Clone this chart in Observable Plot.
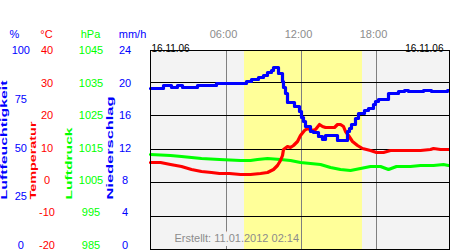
<!DOCTYPE html>
<html><head><meta charset="utf-8">
<script src="https://cdn.jsdelivr.net/npm/d3@7"></script>
<script src="https://cdn.jsdelivr.net/npm/@observablehq/plot@0.6"></script>
<style>
html,body{margin:0;padding:0;background:#fff;}
#chart svg{display:block;}
</style></head><body><div id="chart"></div>
<script>
// ---- data ----
const dateLabel = "16.11.06";
const captionText = "Erstellt: 11.01.2012 02:14";
const tickHours = [6, 12, 18];
const tickLabels = ["06:00", "12:00", "18:00"];
const daylight = [7.48, 16.86]; // sunrise / sunset (hours)

const humTicks = [100, 75, 50, 25, 0];
const tempTicks = [40, 30, 20, 10, 0, -10, -20];
const pressTicks = [1045, 1035, 1025, 1015, 1005, 995, 985];
const rainTicks = [24, 20, 16, 12, 8, 4, 0];
const gridTemps = [30, 20, 10, 0, -10];

const tempHours = [0,0.8,1.6,2.4,3.2,4.0,4.8,5.5,6.3,7.1,7.9,8.7,9.3,9.8,10.1,10.3,10.5,10.6,10.9,11.1,11.35,11.7,11.9,12.2,12.5,12.9,13.1,13.4,13.7,13.9,14.6,14.9,15.1,15.35,15.5,15.75,16.1,16.5,16.9,17.5,18.0,18.5,19.1,19.9,20.7,21.5,22.3,22.5,23.1,23.75];
const tempValues = [6.0,6.0,5.6,4.8,4.0,3.5,3.1,2.8,2.7,2.6,2.6,2.8,3.2,4.0,5.3,6.8,8.3,10.0,10.8,10.6,11.3,12.3,14.2,15.6,16.2,15.7,15.9,17.4,16.8,16.4,16.4,17.4,17.4,16.8,15.3,14.1,12.4,11.1,10.4,9.6,9.0,9.2,9.6,9.6,9.6,9.7,10.1,10.2,10.0,9.9];

const humHours = [0,1.0,1.65,2.1,2.5,3.75,5.2,7.6,8.0,8.6,9.0,9.3,9.6,9.8,10.2,10.5,10.6,10.7,10.85,11.45,11.85,12.0,12.15,12.3,12.75,12.95,13.35,13.7,13.95,14.9,15.65,15.8,16.0,16.3,16.55,17.0,17.35,17.75,17.9,18.1,18.95,19.7,20.2,20.55,21.75,22.35,23.65,23.75];
const humValues = [80.4,81.6,80.6,81.6,80.6,81.6,82.6,83.6,84.6,85.8,86.9,88.1,89.4,90.7,88.0,84.0,80.7,77.7,73.4,71.4,68.7,65.7,64.0,61.4,58.9,58.2,56.4,54.7,56.7,54.4,58.9,60.6,62.2,65.6,68.0,69.2,70.2,72.2,73.9,74.7,77.6,78.6,79.4,78.6,79.4,78.6,79.4,79.4];

const pressHours = [0,1.6,2.4,4.0,5.5,7.1,7.9,8.5,9.3,10.3,11.1,11.9,12.7,13.5,14.3,15.1,15.9,16.7,17.5,18.3,18.9,19.6,20.7,21.5,22.5,23.3,23.75];
const pressValues = [1013.6,1013.3,1012.8,1012.4,1011.9,1011.6,1011.6,1012.1,1012.4,1012.0,1011.6,1011.0,1010.7,1010.4,1009.7,1009.1,1008.7,1009.4,1009.9,1009.9,1009.1,1009.9,1009.9,1010.1,1010.1,1010.4,1010.1];

// ---- axis mapping: all series share the temperature-scaled y axis ----
const humToY = h => -20 + h * 0.6;
const pressToY = p => p - 1005;
const rainToY = r => -20 + r * 2.5;
// the original's tick labels sit on a slightly tighter spacing than its grid
const labelY = t => 0.716 + 0.970 * t;

const BLUE = "#0000ff", RED = "#ff0000", GREEN = "#00ff00", GREY = "#8c8c8c";
const BG = "#f3f3f3", SUN = "#ffff99";

const temp = tempHours.map((h, i) => ({h, v: tempValues[i]}));
const hum = humHours.map((h, i) => ({h, v: humValues[i]}));
const press = pressHours.map((h, i) => ({h, v: pressValues[i]}));
const ticks = tickHours.map((h, i) => ({h, label: tickLabels[i]}));
const sun = [{start: daylight[0], end: daylight[1]}];

const col = (data, yf, dx, fill) => Plot.text(data, {
  y: d => labelY(yf(d)), text: d => String(d), frameAnchor: "left",
  dx, fill, fontSize: 11, textAnchor: "middle"
});
const header = (t, dx, fill) => Plot.text([t], {text: d => d, frameAnchor: "top-left", dx, dy: -20, fill, fontSize: 11, textAnchor: "middle"});
const title = (t, dx, fill) => Plot.text([t], {text: d => d, frameAnchor: "bottom-left", dx, dy: -50, rotate: -90, textAnchor: "start", fill, fontSize: 9, fontWeight: "bold"});

const svg = Plot.plot({
  width: 450, height: 250,
  marginLeft: 150, marginRight: 1, marginTop: 50, marginBottom: 1,
  x: {domain: [0, 24], range: [150.4, 451.6], round: true, axis: null},
  y: {domain: [-20, 40], range: [249.4, 48.4], round: true, axis: null},
  style: {fontFamily: "'Liberation Sans', Arial, sans-serif", background: "#fff", overflow: "visible"},
  marks: [
    Plot.frame({fill: BG, stroke: "none"}),
    Plot.ruleX(ticks, {x: "h", stroke: "#808080", strokeWidth: 1}),
    // halo that interrupts the 06:00 line behind the caption (grey part only)
    Plot.text([captionText], {text: d => d, frameAnchor: "bottom-left", dx: 24, dy: -8, textAnchor: "start", fontSize: 11, fill: BG, stroke: BG, strokeWidth: 8}),
    Plot.rect(sun, {x1: "start", x2: "end", fill: SUN}),
    Plot.ruleX(ticks.filter(t => t.h >= daylight[0] && t.h <= daylight[1]), {x: "h", stroke: "#808080", strokeWidth: 1}),
    Plot.ruleY(gridTemps, {y: d => d, stroke: "#000", strokeWidth: 1}),
    Plot.line(press, {x: "h", y: d => pressToY(d.v), stroke: GREEN, strokeWidth: 3.2}),
    Plot.line(temp, {x: "h", y: "v", stroke: RED, strokeWidth: 3.2}),
    Plot.line(hum, {x: "h", y: d => humToY(d.v), stroke: BLUE, strokeWidth: 3.2, curve: "step-after"}),
    Plot.frame({stroke: "#000", strokeWidth: 1}),
    Plot.text([captionText], {text: d => d, frameAnchor: "bottom-left", dx: 24, dy: -8, textAnchor: "start", fontSize: 11, fill: GREY}),
    Plot.text(ticks, {x: "h", text: "label", frameAnchor: "top", dy: -20, dx: -3, fill: GREY, fontSize: 11}),
    Plot.text([dateLabel], {text: d => d, frameAnchor: "top-left", dx: 1, dy: -6, textAnchor: "start", fontSize: 10, fill: "#000"}),
    Plot.text([dateLabel], {text: d => d, frameAnchor: "top-right", dx: -6, dy: -6, textAnchor: "end", fontSize: 10, fill: "#000"}),
    header("%", -136, BLUE),
    header("°C", -104, RED),
    header("hPa", -60, GREEN),
    header("mm/h", -18, BLUE),
    col(humTicks, humToY, -129.7, BLUE),
    col(tempTicks, d => d, -103.5, RED),
    col(pressTicks, pressToY, -59.5, GREEN),
    col(rainTicks, rainToY, -25.5, BLUE),
    title("Luftfeuchtigkeit", -144, BLUE),
    title("Temperatur", -115, RED),
    title("Luftdruck", -79, GREEN),
    title("Niederschlag", -38, BLUE)
  ]
});

// stretch the rotated axis titles to the length they have in the original
const titleLengths = {"Luftfeuchtigkeit": 119, "Temperatur": 78, "Luftdruck": 72, "Niederschlag": 103};
d3.select(svg).selectAll("text").each(function() {
  const L = titleLengths[this.textContent];
  if (L) { this.setAttribute("textLength", L); this.setAttribute("lengthAdjust", "spacingAndGlyphs"); }
});
document.getElementById("chart").appendChild(svg);
</script>
</body></html>
